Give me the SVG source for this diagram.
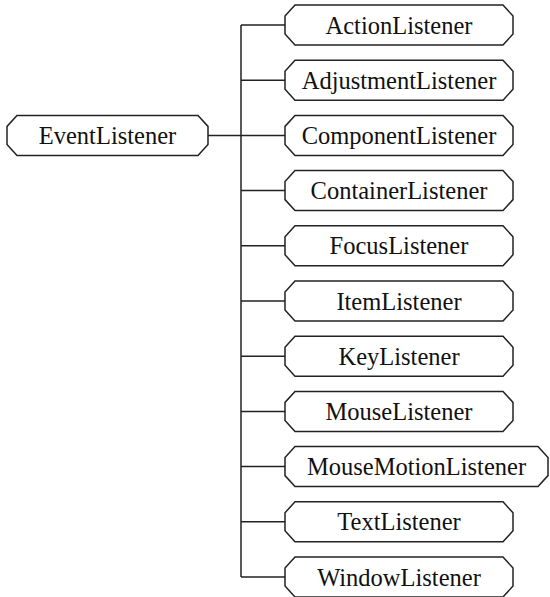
<svg xmlns="http://www.w3.org/2000/svg" width="550" height="597" viewBox="0 0 550 597">
<style>
.box{fill:#fff;stroke:#222;stroke-width:1.5;stroke-linejoin:miter}
.lbl{font-family:"Liberation Serif","Times New Roman",serif;font-size:24.5px;fill:#111;text-anchor:middle}
.con{fill:none;stroke:#222;stroke-width:1.5}
</style>
<rect width="550" height="597" fill="#fff"/>
<g id="connectors" class="con">
<path d="M208,135.4H241M241,25V577"/>
<path d="M241,25H285M241,80.2H285M241,135.4H285M241,190.6H285M241,245.8H285M241,301H285M241,356.2H285M241,411.4H285M241,466.6H285M241,521.8H285M241,577H285"/>
</g>
<g id="EventListener" transform="translate(0,135.4)"><polygon class="box" points="17,-20 198,-20 208,-9 208,9 198,20 17,20 7,9 7,-9"/><text class="lbl" x="107.5" y="8.5">EventListener</text></g>
<g id="ActionListener" transform="translate(0,25)"><polygon class="box" points="295,-20 503,-20 513,-9 513,9 503,20 295,20 285,9 285,-9"/><text class="lbl" x="399" y="8.5">ActionListener</text></g>
<g id="AdjustmentListener" transform="translate(0,80.2)"><polygon class="box" points="295,-20 503,-20 513,-9 513,9 503,20 295,20 285,9 285,-9"/><text class="lbl" x="399" y="8.5">AdjustmentListener</text></g>
<g id="ComponentListener" transform="translate(0,135.4)"><polygon class="box" points="295,-20 503,-20 513,-9 513,9 503,20 295,20 285,9 285,-9"/><text class="lbl" x="399" y="8.5">ComponentListener</text></g>
<g id="ContainerListener" transform="translate(0,190.6)"><polygon class="box" points="295,-20 503,-20 513,-9 513,9 503,20 295,20 285,9 285,-9"/><text class="lbl" x="399" y="8.5">ContainerListener</text></g>
<g id="FocusListener" transform="translate(0,245.8)"><polygon class="box" points="295,-20 503,-20 513,-9 513,9 503,20 295,20 285,9 285,-9"/><text class="lbl" x="399" y="8.5">FocusListener</text></g>
<g id="ItemListener" transform="translate(0,301)"><polygon class="box" points="295,-20 503,-20 513,-9 513,9 503,20 295,20 285,9 285,-9"/><text class="lbl" x="399" y="8.5">ItemListener</text></g>
<g id="KeyListener" transform="translate(0,356.2)"><polygon class="box" points="295,-20 503,-20 513,-9 513,9 503,20 295,20 285,9 285,-9"/><text class="lbl" x="399" y="8.5">KeyListener</text></g>
<g id="MouseListener" transform="translate(0,411.4)"><polygon class="box" points="295,-20 503,-20 513,-9 513,9 503,20 295,20 285,9 285,-9"/><text class="lbl" x="399" y="8.5">MouseListener</text></g>
<g id="MouseMotionListener" transform="translate(0,466.6)"><polygon class="box" points="295,-20 538,-20 548,-9 548,9 538,20 295,20 285,9 285,-9"/><text class="lbl" x="416.5" y="8.5">MouseMotionListener</text></g>
<g id="TextListener" transform="translate(0,521.8)"><polygon class="box" points="295,-20 503,-20 513,-9 513,9 503,20 295,20 285,9 285,-9"/><text class="lbl" x="399" y="8.5">TextListener</text></g>
<g id="WindowListener" transform="translate(0,577)"><polygon class="box" points="295,-20 503,-20 513,-9 513,9 503,20 295,20 285,9 285,-9"/><text class="lbl" x="399" y="8.5">WindowListener</text></g>
</svg>
